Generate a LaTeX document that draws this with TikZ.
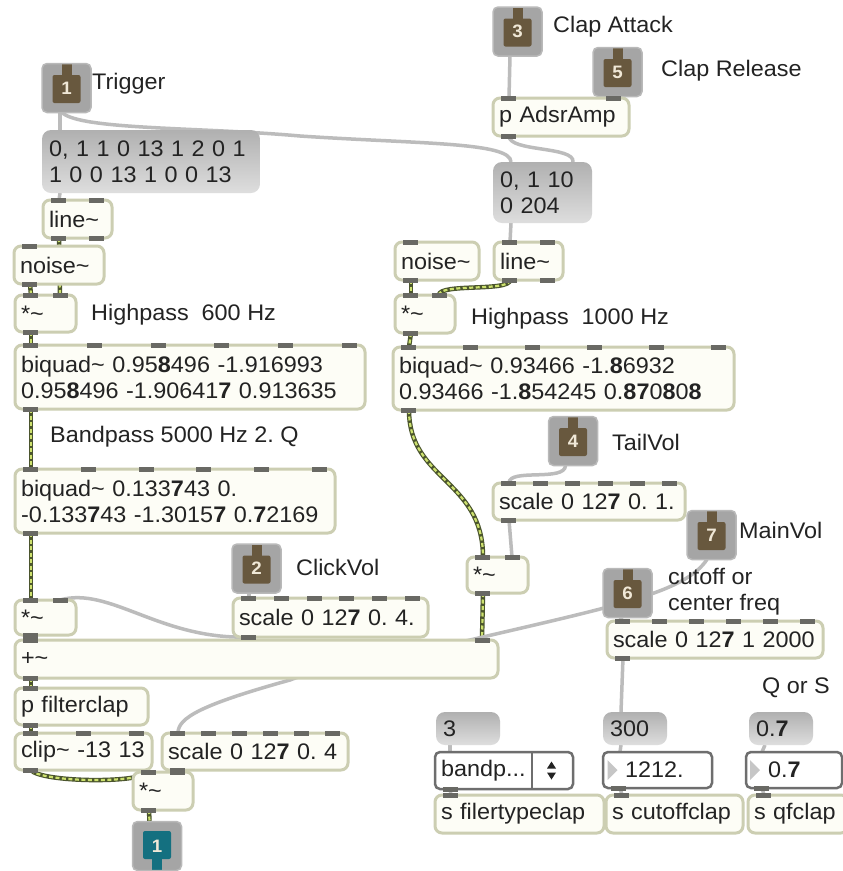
\documentclass[tikz,border=0pt]{standalone}
\usepackage{fontspec}
\setmainfont{Liberation Sans}[FakeStretch=1.04]
\usetikzlibrary{calc}
\pgfdeclarelayer{bg}
\pgfsetlayers{bg,main}
\definecolor{objline}{RGB}{204,206,178}
\definecolor{objfill}{RGB}{253,253,246}
\definecolor{porttab}{RGB}{105,105,100}
\definecolor{cordgray}{RGB}{188,188,188}
\definecolor{sigdark}{RGB}{75,85,45}
\definecolor{siglight}{RGB}{205,225,110}
\definecolor{inlgray}{RGB}{165,165,165}
\definecolor{inledge}{RGB}{185,185,185}
\definecolor{inlbrown}{RGB}{104,88,62}
\definecolor{innum}{RGB}{240,232,215}
\definecolor{outteal}{RGB}{20,112,128}
\definecolor{msgtop}{RGB}{176,176,176}
\definecolor{msgbot}{RGB}{222,222,222}
\definecolor{ink}{RGB}{35,35,35}
\definecolor{boxline}{RGB}{110,110,110}
\newcommand{\tld}{\textasciitilde}
\newcommand{\ports}[3]{%
  \ifnum#2>0\relax
  \foreach \k in {1,...,#2}{%
    \pgfmathsetmacro\f{(\k-1)/max(#2-1,1)}
    \fill[porttab] ($([xshift=8pt,yshift=2.5pt]#1.north west)!\f!([xshift=-23pt,yshift=2.5pt]#1.north east)$) rectangle ++(15pt,-5pt);
  }\fi
  \ifnum#3>0\relax
  \foreach \k in {1,...,#3}{%
    \pgfmathsetmacro\f{(\k-1)/max(#3-1,1)}
    \fill[porttab] ($([xshift=8pt,yshift=2.5pt]#1.south west)!\f!([xshift=-23pt,yshift=2.5pt]#1.south east)$) rectangle ++(15pt,-5pt);
  }\fi}

\begin{document}
\begin{tikzpicture}[x=1pt,y=-1pt,
    every node/.style={font=\fontsize{22.5}{26}\selectfont, execute at begin node=\frenchspacing},
    obj/.style={draw=objline, fill=objfill, line width=3pt, rounded corners=7pt, outer sep=0pt,
      inner xsep=6pt, inner ysep=0pt, align=left, text=ink},
    msg/.style={top color=msgtop, bottom color=msgbot, rounded corners=9pt, outer sep=0pt,
      inner xsep=7pt, inner ysep=0pt, align=left, text=ink},
    menu/.style={draw=boxline, fill=white, line width=2.5pt, rounded corners=5pt, outer sep=0pt,
      inner xsep=6pt, inner ysep=0pt, align=left, text=ink},
    lbl/.style={anchor=west, inner sep=0pt, align=left, text=ink},
    inl/.style={fill=inlgray, draw=inledge, line width=1.5pt, rounded corners=5pt, minimum size=49pt,
      outer sep=0pt, inner sep=0pt, text=innum, font=\bfseries\fontsize{18}{18}\selectfont,
      path picture={\fill[inlbrown, rounded corners=2pt] ([shift={(-14pt,-15pt)}]path picture bounding box.center) rectangle ([shift={(14pt,13pt)}]path picture bounding box.center);
        \fill[inlbrown, sharp corners] ([shift={(-5pt,10pt)}]path picture bounding box.center) rectangle ([shift={(5pt,30pt)}]path picture bounding box.center);}},
    outl/.style={inl,
      path picture={\fill[outteal, rounded corners=2pt] ([shift={(-14pt,-13pt)}]path picture bounding box.center) rectangle ([shift={(14pt,15pt)}]path picture bounding box.center);
        \fill[outteal, sharp corners] ([shift={(-5pt,-10pt)}]path picture bounding box.center) rectangle ([shift={(5pt,-30pt)}]path picture bounding box.center);}},
    cord/.style={draw=cordgray, line width=3.5pt},
    sig/.style={draw=sigdark, line width=4.5pt, postaction={draw=siglight, line width=2.2pt, dash pattern=on 4pt off 2.5pt}}]
    \useasboundingbox (0,0) rectangle (843,871);

    \node[inl] (in1) at (66.5,88) {1};
    \node[lbl] (lTrig) at (92,84) {Trigger};
    \node[inl] (in3) at (517.5,31.5) {3};
    \node[lbl] (lAtt) at (553,27) {Clap Attack};
    \node[inl] (in5) at (617.5,72) {5};
    \node[lbl] (lRel) at (661,71) {Clap Release};
    \node[inl] (in4) at (573,441) {4};
    \node[lbl] (lTail) at (612,442) {TailVol};
    \node[inl] (in2) at (256.5,568.5) {2};
    \node[lbl] (lClick) at (296,567) {ClickVol};
    \node[inl] (in7) at (711.5,535) {7};
    \node[lbl] (lMain) at (739,530) {MainVol};
    \node[inl] (in6) at (627.5,593) {6};
    \node[lbl] (lCut) at (668,592) {cutoff or\\center freq};
    \node[outl] (out1) at (157,846) {1};

    \node[lbl] (lHpA) at (91,315) {Highpass\ \ 600 Hz};
    \node[lbl] (lHpB) at (471,319) {Highpass\ \ 1000 Hz};
    \node[lbl] (lBp) at (50,437) {Bandpass 5000 Hz 2. Q};
    \node[lbl] (lQ) at (762,688) {Q or S};

    \node[msg, text width=204pt, minimum height=63pt] (msgA) at (151,161.5) {0, 1 1 0 13 1 2 0 1\\1 0 0 13 1 0 0 13};
    \node[msg, text width=85pt, minimum height=61pt] (msgB) at (542.5,192.5) {0, 1 10\\0 204};
    \node[msg, text width=50pt, minimum height=33pt] (msg3) at (468,728.5) {3};
    \node[msg, text width=50pt, minimum height=33pt] (msg300) at (635,728.5) {300};
    \node[msg, text width=50pt, minimum height=33pt] (msg07) at (781,728.5) {0.\textbf{7}};

    \node[obj, text width=57pt, minimum height=38pt] (lineL) at (77.5,219) {line\tld};
    \node[obj, text width=78pt, minimum height=38pt] (noiseL) at (59,265) {noise\tld};
    \node[obj, text width=49pt, minimum height=37pt] (mulA) at (45.5,313.5) {*\tld};
    \node[obj, text width=338pt, minimum height=64pt] (bqA) at (190,377) {biquad\tld\ 0.95\textbf{8}496 -1.916993\\0.95\textbf{8}496 -1.90641\textbf{7} 0.913635};
    \node[obj, text width=308pt, minimum height=64pt] (bqB) at (175,501) {biquad\tld\ 0.133\textbf{7}43 0.\\-0.133\textbf{7}43 -1.3015\textbf{7} 0.\textbf{7}2169};
    \node[obj, text width=183pt, minimum height=39pt] (scClick) at (330.5,617.5) {scale 0 12\textbf{7} 0. 4.};
    \node[obj, text width=49pt, minimum height=35pt] (mulB) at (45.5,617.5) {*\tld};
    \node[obj, text width=471pt, minimum height=38pt] (plus) at (256.5,659) {+\tld};
    \node[obj, text width=121pt, minimum height=37pt] (pfilt) at (81.5,706.5) {p filterclap};
    \node[obj, text width=125pt, minimum height=37pt] (clip) at (83.5,751.5) {clip\tld\ -13 13};
    \node[obj, text width=174pt, minimum height=37pt] (scOut) at (255,751.5) {scale 0 12\textbf{7} 0. 4};
    \node[obj, text width=48pt, minimum height=38pt] (mulOut) at (163,791) {*\tld};
    \node[obj, text width=124pt, minimum height=38pt] (pAdsr) at (561,117) {p AdsrAmp};
    \node[obj, text width=72pt, minimum height=38pt] (noiseR) at (437,261) {noise\tld};
    \node[obj, text width=57pt, minimum height=38pt] (lineR) at (528.5,261) {line\tld};
    \node[obj, text width=48pt, minimum height=38pt] (mulR) at (425,314) {*\tld};
    \node[obj, text width=329pt, minimum height=63pt] (bqR) at (563.5,378.5) {biquad\tld\ 0.93466 -1.\textbf{8}6932\\0.93466 -1.\textbf{8}54245 0.\textbf{87}0\textbf{8}0\textbf{8}};
    \node[obj, text width=180pt, minimum height=37pt] (scTail) at (589,501.5) {scale 0 12\textbf{7} 0. 1.};
    \node[obj, text width=49pt, minimum height=36pt] (mulM) at (497.5,575) {*\tld};
    \node[obj, text width=204pt, minimum height=37pt] (scCut) at (715,639.5) {scale 0 12\textbf{7} 1 2000};
    \node[obj, text width=157pt, minimum height=38pt] (sFilt) at (519.5,814) {s filertypeclap};
    \node[obj, text width=125pt, minimum height=38pt] (sCut) at (674.5,814) {s cutoffclap};
    \node[obj, text width=88pt, minimum height=38pt] (sQ) at (798,814) {s qfclap};

    \node[menu, text width=126pt, minimum height=37pt,
      path picture={\draw[boxline, line width=2pt, sharp corners] ([xshift=28pt]path picture bounding box.north) -- ([xshift=28pt]path picture bounding box.south);
        \fill[ink, sharp corners] ([shift={(43pt,2pt)}]path picture bounding box.center) -- ++(9pt,0pt) -- ++(-4.5pt,7pt) -- cycle;
        \fill[ink, sharp corners] ([shift={(43pt,-2pt)}]path picture bounding box.center) -- ++(9pt,0pt) -- ++(-4.5pt,-7pt) -- cycle;}]
      (umenu) at (504,770.5) {bandp...};
    \node[menu, text width=97pt, minimum height=36pt,
      path picture={\fill[gray!45, sharp corners] ([shift={(-50pt,10pt)}]path picture bounding box.center) -- ++(10pt,-10pt) -- ++(-10pt,-10pt) -- cycle;}]
      (n1212) at (657.5,770) {\hspace*{16pt}1212.};
    \node[menu, text width=84pt, minimum height=36pt,
      path picture={\fill[gray!45, sharp corners] ([shift={(-44pt,10pt)}]path picture bounding box.center) -- ++(10pt,-10pt) -- ++(-10pt,-10pt) -- cycle;}]
      (n07) at (794,770) {\hspace*{16pt}0.\textbf{7}};

    \ports{lineL}{2}{2}
    \ports{noiseL}{1}{1}
    \ports{mulA}{2}{1}
    \ports{bqA}{6}{1}
    \ports{bqB}{6}{1}
    \ports{scClick}{6}{1}
    \ports{mulB}{2}{1}
    \ports{plus}{2}{1}
    \ports{pfilt}{1}{1}
    \ports{clip}{3}{1}
    \ports{scOut}{6}{1}
    \ports{mulOut}{2}{1}
    \ports{pAdsr}{2}{1}
    \ports{noiseR}{1}{1}
    \ports{lineR}{2}{2}
    \ports{mulR}{2}{1}
    \ports{bqR}{6}{1}
    \ports{scTail}{6}{1}
    \ports{mulM}{2}{1}
    \ports{scCut}{6}{1}
    \ports{sFilt}{1}{0}
    \ports{sCut}{1}{0}
    \ports{sQ}{1}{0}
    \ports{umenu}{0}{1}
    \ports{n1212}{0}{1}
    \ports{n07}{0}{1}

    \begin{pgfonlayer}{bg}
        \fill[white] (0,0) rectangle (843,871);
        \draw[cord] ([xshift=18pt]in1.south west) -- ([xshift=18pt]msgA.north west);
        \draw[cord] ([xshift=20pt]in1.south west) .. controls (80,130) and (200,127) .. (300,136) .. controls (420,144) and (511,142) .. ([xshift=18pt]msgB.north west);
        \draw[cord] ([xshift=17pt]in3.south west) -- ([xshift=16pt]pAdsr.north west);
        \draw[cord] ([xshift=17pt]in5.south west) -- ([xshift=-16pt]pAdsr.north east);
        \draw[cord] ([xshift=16pt]pAdsr.south west) .. controls (509,152) and (575,146) .. ([xshift=-19pt]msgB.north east);
        \draw[cord] ([xshift=18pt]msgB.south west) -- ([xshift=16pt]lineR.north west);
        \draw[cord] ([xshift=18pt]msgA.south west) -- ([xshift=16pt]lineL.north west);
        \draw[sig] ([xshift=16pt]lineL.south west) -- ([xshift=-16pt]mulA.north east);
        \draw[sig] ([xshift=16pt]noiseL.south west) -- ([xshift=16pt]mulA.north west);
        \draw[sig] ([xshift=16pt]mulA.south west) -- ([xshift=16pt]bqA.north west);
        \draw[sig] ([xshift=16pt]bqA.south west) -- ([xshift=16pt]bqB.north west);
        \draw[sig] ([xshift=16pt]bqB.south west) -- ([xshift=16pt]mulB.north west);
        \draw[cord] ([xshift=16pt]scClick.south west) .. controls (160,640) and (110,586) .. ([xshift=-16pt]mulB.north east);
        \draw[cord] ([xshift=17pt]in2.south west) -- ([xshift=16pt]scClick.north west);
        \draw[sig] ([xshift=16pt]mulB.south west) -- ([xshift=16pt]plus.north west);
        \draw[sig] ([xshift=16pt]mulM.south west) -- ([xshift=-16pt]plus.north east);
        \draw[sig] ([xshift=16pt]plus.south west) -- ([xshift=16pt]pfilt.north west);
        \draw[sig] ([xshift=16pt]pfilt.south west) -- ([xshift=16pt]clip.north west);
        \draw[sig] ([xshift=16pt]clip.south west) .. controls (40,782) and (138,784) .. ([xshift=16pt]mulOut.north west);
        \draw[cord] ([xshift=16pt]scOut.south west) -- ([xshift=-16pt]mulOut.north east);
        \draw[sig] ([xshift=16pt]mulOut.south west) -- ([xshift=17pt]out1.north west);
        \draw[cord] ([xshift=20pt]in7.south west) .. controls (685,592) and (620,605) .. (470,640) .. controls (380,660) and (320,668) .. (290,680) .. controls (200,705) and (178,718) .. ([xshift=16pt]scOut.north west);
        \draw[cord] ([xshift=17pt]in6.south west) -- ([xshift=16pt]scCut.north west);
        \draw[cord] ([xshift=16pt]scCut.south west) -- ([xshift=18pt]msg300.north west);
        \draw[cord] ([xshift=17pt]in4.south west) .. controls (565,482) and (509,468) .. ([xshift=16pt]scTail.north west);
        \draw[cord] ([xshift=16pt]scTail.south west) -- ([xshift=-16pt]mulM.north east);
        \draw[sig] ([xshift=16pt]bqR.south west) .. controls (409,480) and (483,480) .. ([xshift=16pt]mulM.north west);
        \draw[sig] ([xshift=16pt]noiseR.south west) -- ([xshift=16pt]mulR.north west);
        \draw[sig] ([xshift=16pt]lineR.south west) .. controls (510,292) and (439,283) .. ([xshift=-16pt]mulR.north east);
        \draw[sig] ([xshift=16pt]mulR.south west) -- ([xshift=16pt]bqR.north west);
        \draw[cord] ([xshift=14pt]msg3.south west) -- ([xshift=15pt]umenu.north west);
        \draw[cord] ([xshift=18pt]msg300.south west) -- ([xshift=17pt]n1212.north west);
        \draw[cord] ([xshift=16pt]msg07.south west) -- ([xshift=16pt]n07.north west);
        \draw[cord] ([xshift=15pt]umenu.south west) -- ([xshift=16pt]sFilt.north west);
        \draw[cord] ([xshift=17pt]n1212.south west) -- ([xshift=16pt]sCut.north west);
        \draw[cord] ([xshift=16pt]n07.south west) -- ([xshift=16pt]sQ.north west);
    \end{pgfonlayer}
\end{tikzpicture}
\end{document}
